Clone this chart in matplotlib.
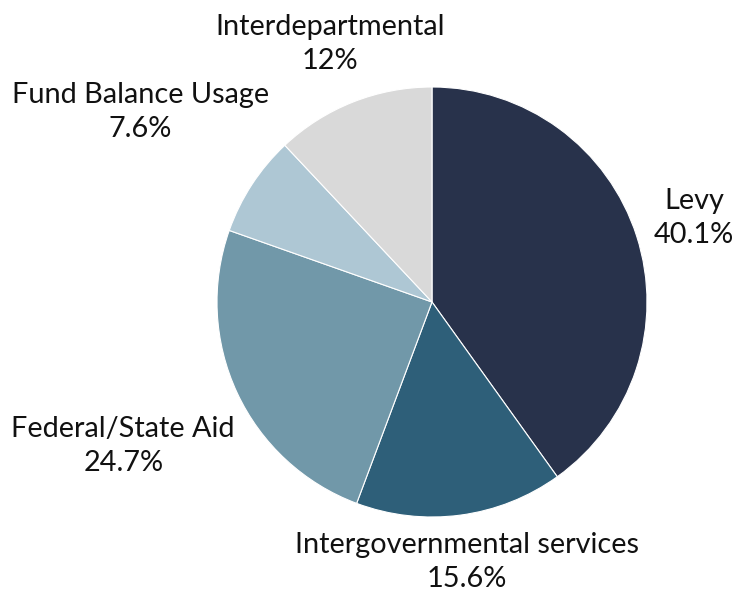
import matplotlib
matplotlib.use("Agg")
import matplotlib.pyplot as plt
import numpy as np

categories = ["Levy", "Intergovernmental services", "Federal/State Aid",
              "Fund Balance Usage", "Interdepartmental"]
values = [40.1, 15.6, 24.7, 7.6, 12.0]
pct_labels = ["40.1%", "15.6%", "24.7%", "7.6%", "12%"]
colors = ["#28324b", "#2e5f79", "#7198a9", "#aec7d4", "#d9d9d9"]
label_dist = [1.28, 1.22, 1.585, 1.62, 1.29]

plt.rcParams['font.family'] = ['Lato', 'DejaVu Sans']

fig = plt.figure(figsize=(7.36, 5.95), dpi=100)
ax = fig.add_axes([0, 0, 1, 1])
wedges, _ = ax.pie(values, colors=colors, startangle=90, counterclock=False,
                   radius=1, wedgeprops=dict(edgecolor="white", linewidth=0.8))
for w, cat, pct, d in zip(wedges, categories, pct_labels, label_dist):
    mid = np.deg2rad((w.theta1 + w.theta2) / 2)
    ax.text(d * np.cos(mid), d * np.sin(mid), f"{cat}\n{pct}", ha="center", va="center",
            fontsize=20.8, color="#111111", linespacing=1.38)

r_px = 215.0
cx, cy = 432.0, 302.0
ax.set_xlim(-cx / r_px, (736 - cx) / r_px)
ax.set_ylim(-(595 - cy) / r_px, cy / r_px)
ax.set_aspect("auto")
ax.axis("off")
fig.savefig("out.png", dpi=100)
